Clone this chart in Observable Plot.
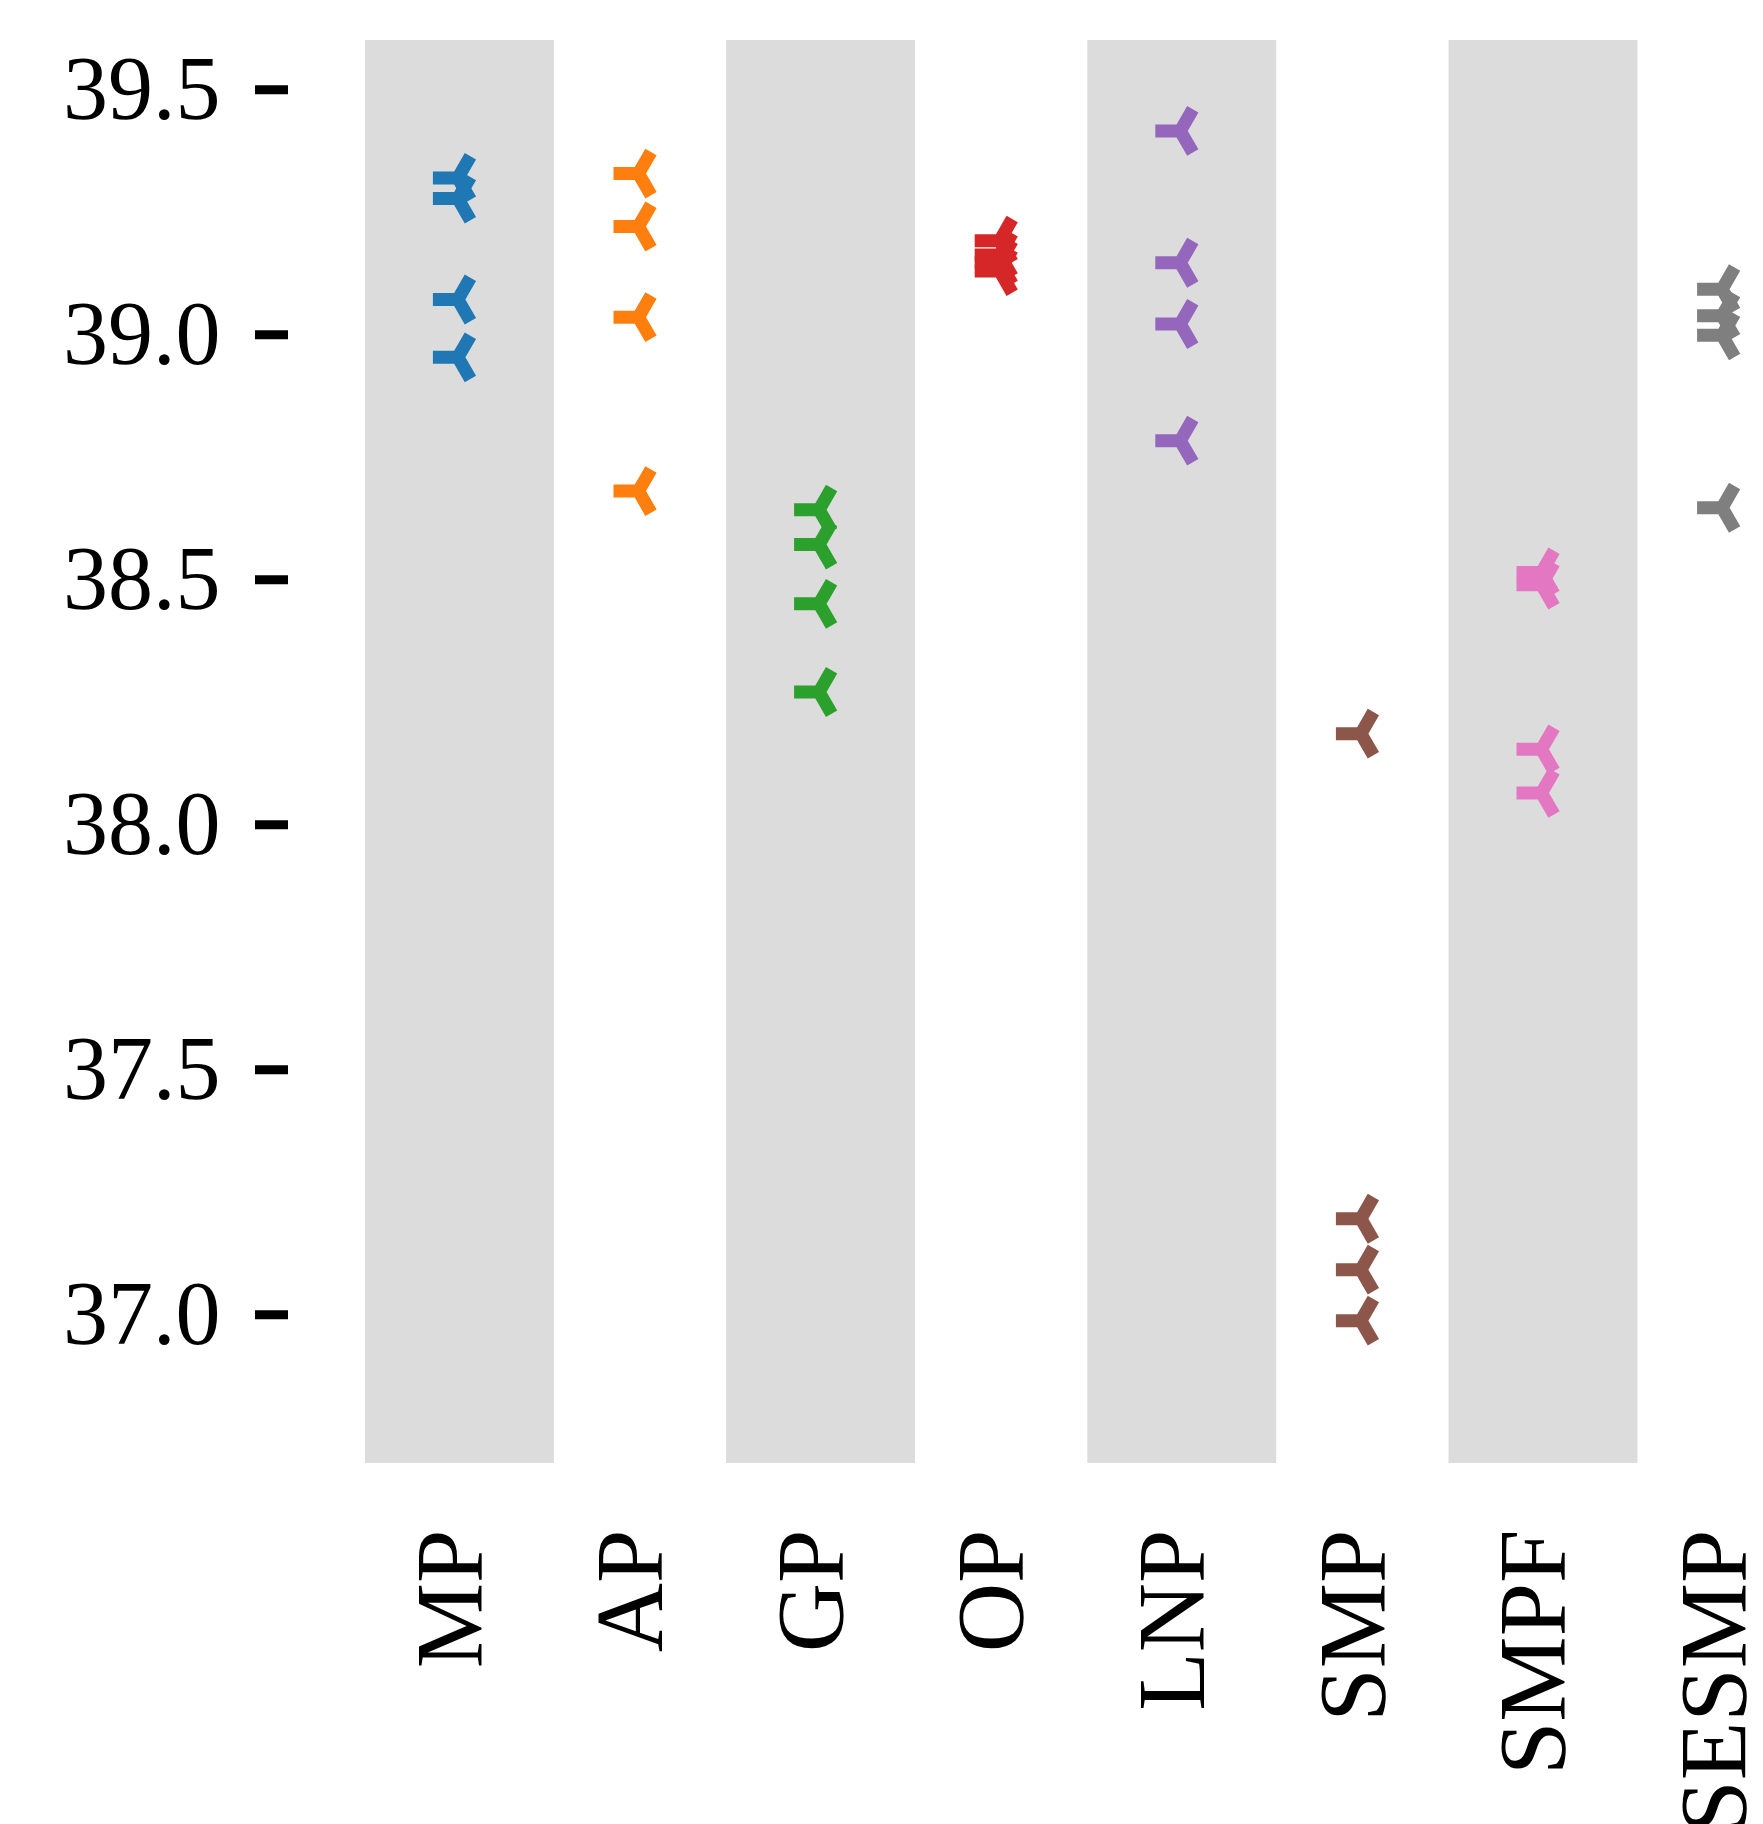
<!DOCTYPE html>
<html>
<head>
<meta charset="utf-8">
<script src="https://cdn.jsdelivr.net/npm/d3@7"></script>
<script src="https://cdn.jsdelivr.net/npm/@observablehq/plot@0.6"></script>
<style>
  html, body { margin: 0; padding: 0; background: #ffffff; }
  #chart svg { display: block; }
</style>
</head>
<body>
<div id="chart"></div>
<script>
// ---- data ----
const categories = ["MP", "AP", "GP", "OP", "LNP", "SMP", "SMPF", "SESMP"];
const colors = ["#1f77b4", "#ff7f0e", "#2ca02c", "#d62728", "#9467bd", "#8c564b", "#e377c2", "#7f7f7f"];
const mpValues    = [39.320, 39.278, 39.072, 38.954];
const apValues    = [39.329, 39.221, 39.036, 38.681];
const gpValues    = [38.643, 38.572, 38.451, 38.271];
const opValues    = [39.192, 39.163, 39.148, 39.130];
const lnpValues   = [39.416, 39.147, 39.022, 38.784];
const smpValues   = [38.186, 37.196, 37.092, 36.988];
const smpfValues  = [38.515, 38.490, 38.154, 38.065];
const sesmpValues = [39.093, 39.039, 38.999, 38.647];
const yTicks = [37.0, 37.5, 38.0, 38.5, 39.0, 39.5];

const seriesValues = [mpValues, apValues, gpValues, opValues, lnpValues, smpValues, smpfValues, sesmpValues];
const points = [];
seriesValues.forEach((vals, i) => vals.forEach(v => points.push({idx: i, cat: categories[i], value: v})));
const shaded = categories.map((c, i) => ({idx: i, cat: c})).filter(d => d.idx % 2 === 0);
const labels = categories.map((c, i) => ({idx: i, cat: c}));

// matplotlib "tri_left" marker
const triLeft = {
  draw(context, size) {
    const r = Math.sqrt(size / Math.PI);
    context.moveTo(-r, 0);
    context.lineTo(0, 0);
    context.lineTo(r * 0.5, -r * 0.866);
    context.moveTo(0, 0);
    context.lineTo(r * 0.5, r * 0.866);
  }
};

const FONT = "'Liberation Serif', 'DejaVu Serif', serif";

const chart = Plot.plot({
  width: 1763,
  height: 1824,
  marginLeft: 288,
  marginRight: 0,
  marginTop: 40,
  marginBottom: 361,
  style: {background: "#ffffff", fontFamily: FONT, color: "#000000"},
  x: {type: "linear", domain: [0, 7], range: [457.4, 1721.6], axis: null},
  y: {type: "linear", domain: [37.0, 39.5], range: [1314.3, 89.3]},
  color: {domain: categories, range: colors},
  marks: [
    Plot.rect(shaded, {x1: d => d.idx - 0.512, x2: d => d.idx + 0.534, fill: "#dcdcdc"}),
    Plot.axisY({
      ticks: yTicks,
      tickFormat: d3.format(".1f"),
      tickSize: 33,
      tickPadding: 35,
      strokeWidth: 9,
      fontSize: 90,
      label: null,
      fill: "#000000",
      stroke: "#000000"
    }),
    Plot.dot(points, {
      x: "idx",
      y: "value",
      symbol: triLeft,
      r: 25,
      fill: "none",
      stroke: "cat",
      strokeWidth: 13,
      strokeLinecap: "butt",
      strokeLinejoin: "miter"
    }),
    Plot.text(labels, {
      x: "idx",
      text: "cat",
      frameAnchor: "bottom",
      rotate: -90,
      textAnchor: "end",
      lineAnchor: "middle",
      dy: 66,
      dx: -7,
      fontSize: 96,
      fill: "#000000"
    })
  ]
});

document.getElementById("chart").appendChild(chart);
</script>
</body>
</html>
